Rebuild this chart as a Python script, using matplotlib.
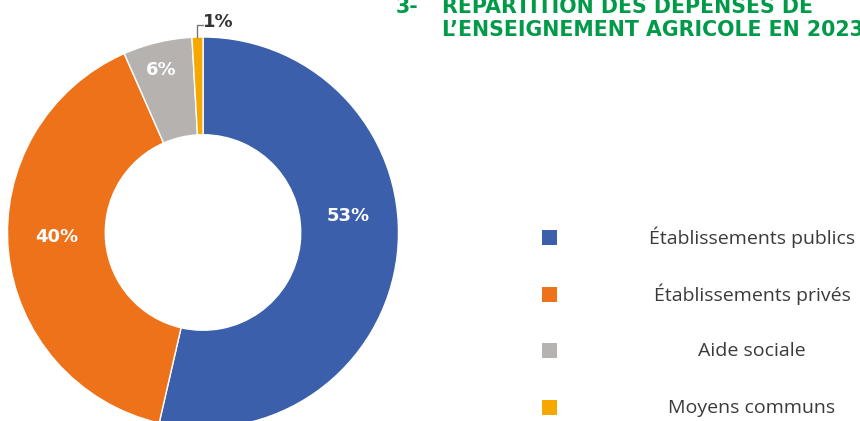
import matplotlib
matplotlib.use("Agg")
import matplotlib.pyplot as plt
import numpy as np
from matplotlib.patches import Rectangle

# data
categories = ["Établissements publics", "Établissements privés", "Aide sociale", "Moyens communs"]
shares = [53.6, 39.8, 5.7, 0.9]
pct_labels = ["53%", "40%", "6%", "1%"]
title_lines = ["RÉPARTITION DES DÉPENSES DE", "L’ENSEIGNEMENT AGRICOLE EN 2023"]
title_number = "3-"

COLORS = ["#3B5FAA", "#EE7219", "#B5B2AF", "#F7A800"]
GREEN = "#009A49"
TEXT_DARK = "#333333"

W, H = 860, 421
fig = plt.figure(figsize=(W / 100, H / 100), dpi=100)

# donut, centre at (203, 232.5) px, radius 195.5 px
cx, cy, r = 203, 232.5, 195.5
ax = fig.add_axes([(cx - r) / W, (H - cy - r) / H, 2 * r / W, 2 * r / H])
wedges, _ = ax.pie(shares, colors=COLORS, startangle=90, counterclock=False,
                   radius=1, wedgeprops=dict(width=0.5, edgecolor="white", linewidth=1))
ax.set_xlim(-1, 1)
ax.set_ylim(-1, 1)
ax.set_aspect("equal")
ax.axis("off")

# labels were nudged by hand in the original
label_r = [0.75, 0.75, 0.86]
label_shift = [13, -3.5, 1]
for w, lab, lr, sh in zip(wedges[:3], pct_labels[:3], label_r, label_shift):
    ang = np.deg2rad((w.theta1 + w.theta2) / 2 + sh)
    ax.text(lr * np.cos(ang), lr * np.sin(ang), lab, ha="center", va="center",
            color="white", fontsize=13, fontweight="bold")

# small slice gets a leader line
w = wedges[3]
ang = np.deg2rad((w.theta1 + w.theta2) / 2)
x0, y0 = np.cos(ang), np.sin(ang)
ax.plot([x0, x0, 0.0], [y0, 1.062, 1.062], color="#777777", lw=1, clip_on=False)
ax.text(0.0, 1.052, pct_labels[3], ha="left", va="baseline",
        color=TEXT_DARK, fontsize=13, fontweight="bold")

# overlay in pixel coordinates for title and legend
ov = fig.add_axes([0, 0, 1, 1])
ov.set_xlim(0, W)
ov.set_ylim(H, 0)
ov.axis("off")

ov.text(396, 13, title_number, color=GREEN, fontsize=14.8, fontweight="bold", va="baseline")
for i, line in enumerate(title_lines):
    ov.text(442, 13 + 23 * i, line, color=GREEN, fontsize=14.8,
            fontweight="bold", va="baseline")

for i, (cat, col) in enumerate(zip(categories, COLORS)):
    yc = 237.5 + 56.7 * i
    ov.add_patch(Rectangle((542, yc - 7.5), 15, 15, color=col, lw=0))
    ov.text(752, yc, cat, ha="center", va="center", color="#3a3a3a",
            fontsize=14, family="Open Sans")

fig.savefig("out.png", dpi=100)
